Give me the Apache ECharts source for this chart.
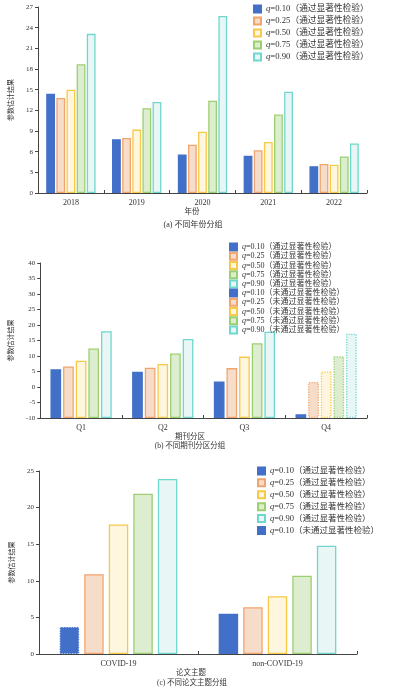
<!DOCTYPE html>
<html><head><meta charset="utf-8">
<script src="https://cdn.jsdelivr.net/npm/echarts@6/dist/echarts.min.js"></script>
<style>html,body{margin:0;padding:0;background:#fff}#c{width:394px;height:691px}</style>
</head><body><div id="c"></div>
<script>
// ---------- data ----------
const qLevels = ['0.10', '0.25', '0.50', '0.75', '0.90'];

// (a) by year
const yearCats = ['2018', '2019', '2020', '2021', '2022'];
const yearQ10 = [14.4, 7.8, 5.6, 5.4, 3.9];
const yearQ25 = [13.8, 8.0, 7.0, 6.2, 4.2];
const yearQ50 = [15.0, 9.2, 8.9, 7.4, 4.1];
const yearQ75 = [18.7, 12.3, 13.4, 11.4, 5.3];
const yearQ90 = [23.1, 13.2, 25.7, 14.7, 7.2];
const yearTicks = {min: 0, max: 27, interval: 3};

// (b) by journal quartile
const quartCats = ['Q1', 'Q2', 'Q3', 'Q4'];
const quartSigQ10 = [5.7, 4.9, 1.8, null];
const quartSigQ25 = [6.6, 6.2, 6.1, null];
const quartSigQ50 = [8.5, 7.4, 9.8, null];
const quartSigQ75 = [12.4, 10.8, 14.1, null];
const quartSigQ90 = [18.0, 15.5, 17.8, null];
const quartNsQ10 = [null, null, null, -8.8];
const quartNsQ25 = [null, null, null, 1.6];
const quartNsQ50 = [null, null, null, 5.0];
const quartNsQ75 = [null, null, null, 9.9];
const quartNsQ90 = [null, null, null, 17.2];
const quartTicks = {min: -10, max: 40, interval: 5};

// (c) by topic
const topicCats = ['COVID-19', 'non-COVID-19'];
const topicSigQ10 = [null, 5.5];
const topicSigQ25 = [10.9, 6.4];
const topicSigQ50 = [17.7, 7.9];
const topicSigQ75 = [21.9, 10.7];
const topicSigQ90 = [23.9, 14.8];
const topicNsQ10 = [3.7, null];
const topicTicks = {min: 0, max: 25, interval: 5};

// ---------- styles ----------
const SERIF = '"Liberation Serif","Times New Roman","Noto Sans CJK SC",serif';
const palette = [
  {fill: '#4270C8', border: '#4270C8'},
  {fill: '#F6DDC9', border: '#F2A46C'},
  {fill: '#FEF6DE', border: '#F8C947'},
  {fill: '#DDEDCF', border: '#9CCF70'},
  {fill: '#E8F7F5', border: '#6FD7CD'}
];
const sigName = i => 'q=' + qLevels[i] + '（通过显著性检验）';
const nsName = i => 'q=' + qLevels[i] + '（未通过显著性检验）';

function barSeries(name, data, qi, xAxisIndex, yAxisIndex, dotted, gap, catGap) {
  return {
    type: 'bar', name: name, data: data,
    xAxisIndex: xAxisIndex, yAxisIndex: yAxisIndex,
    barGap: gap, barCategoryGap: catGap,
    itemStyle: {
      color: palette[qi].fill, borderColor: palette[qi].border,
      borderWidth: 1.3, borderType: dotted ? 'dotted' : 'solid'
    },
    emphasis: {disabled: true}, animation: false
  };
}
function legendFmt(n) { return n.replace(/^q/, '{i|q}'); }
function makeLegend(names, left, top, fs, lh) {
  return {
    data: names, orient: 'vertical', left: left, top: top, padding: 0,
    icon: 'rect', itemWidth: 7, itemHeight: 7, itemGap: 0,
    selectedMode: false, formatter: legendFmt,
    textStyle: {fontFamily: SERIF, fontSize: fs, lineHeight: lh, color: '#333',
      rich: {i: {fontStyle: 'italic', fontFamily: SERIF, fontSize: fs, lineHeight: lh, color: '#333'}}}
  };
}
function yAx(gridIndex, ticks, startValue) {
  const o = {
    type: 'value', gridIndex: gridIndex, min: ticks.min, max: ticks.max, interval: ticks.interval,
    name: '参数估计结果', nameLocation: 'middle', nameGap: 15,
    nameTextStyle: {fontFamily: SERIF, fontSize: 7, color: '#333'},
    axisLine: {show: true, lineStyle: {color: '#444', width: 1}},
    axisTick: {show: true, length: 3, lineStyle: {color: '#444'}},
    axisLabel: {fontFamily: SERIF, fontSize: 7, color: '#333', margin: 5},
    splitLine: {show: false}
  };
  if (startValue !== undefined) o.startValue = startValue;
  return o;
}
function xAx(gridIndex, cats, show) {
  return {
    type: 'category', gridIndex: gridIndex, data: cats, show: show,
    axisLine: {show: true, onZero: false, lineStyle: {color: '#444', width: 1}},
    axisTick: {show: true, inside: true, length: 3, lineStyle: {color: '#444'}},
    axisLabel: {fontFamily: SERIF, fontSize: 8, color: '#333', margin: 6}
  };
}

const series = [];
const yearData = [yearQ10, yearQ25, yearQ50, yearQ75, yearQ90];
yearData.forEach((d, i) => series.push(barSeries(sigName(i), d, i, 0, 0, false, '15%', '25%')));
const quartSig = [quartSigQ10, quartSigQ25, quartSigQ50, quartSigQ75, quartSigQ90];
const quartNs = [quartNsQ10, quartNsQ25, quartNsQ50, quartNsQ75, quartNsQ90];
quartSig.forEach((d, i) => series.push(barSeries(sigName(i), d, i, 1, 1, false, '18%', '25%')));
quartNs.forEach((d, i) => series.push(barSeries(nsName(i), d, i, 2, 1, i > 0, '18%', '25%')));
const topicSig = [topicSigQ10, topicSigQ25, topicSigQ50, topicSigQ75, topicSigQ90];
topicSig.forEach((d, i) => series.push(barSeries(sigName(i), d, i, 3, 2, false, '26%', '26%')));
// not-significant group for (c): q=0.10 only, other slots kept empty so bars align
series.push(barSeries(nsName(0), topicNsQ10, 0, 4, 2, true, '26%', '26%'));
for (let i = 1; i < 5; i++) series.push(barSeries('slot' + i, topicCats.map(() => null), i, 4, 2, false, '26%', '26%'));

const txt = (x, y, s, fs) => ({type: 'text', x: x, y: y, style: {text: s, fontFamily: SERIF, fontSize: fs, fill: '#333', align: 'center', verticalAlign: 'middle'}});

const option = {
  backgroundColor: '#fff',
  animation: false,
  grid: [
    {left: 38, top: 7, width: 329, height: 186},
    {left: 39, top: 263, width: 328, height: 155},
    {left: 39, top: 471, width: 318, height: 183}
  ],
  xAxis: [
    xAx(0, yearCats, true),
    xAx(1, quartCats, true),
    xAx(1, quartCats, false),
    xAx(2, topicCats, true),
    xAx(2, topicCats, false)
  ],
  yAxis: [yAx(0, yearTicks), yAx(1, quartTicks, -10), yAx(2, topicTicks)],
  legend: [
    makeLegend([0,1,2,3,4].map(sigName), 253, 3, 8.7, 12),
    makeLegend([0,1,2,3,4].map(sigName).concat([0,1,2,3,4].map(nsName)), 229, 242.5, 8, 9.2),
    makeLegend([0,1,2,3,4].map(sigName).concat([nsName(0)]), 257, 465, 8.5, 11.9)
  ],
  graphic: [
    txt(192, 212, '年份', 7.5),
    txt(193, 225, '(a) 不同年份分组', 8),
    txt(190, 437, '期刊分区', 7.5),
    txt(190, 446, '(b) 不同期刊分区分组', 7.5),
    txt(191, 673, '论文主题', 7.5),
    txt(192, 683, '(c) 不同论文主题分组', 7.5)
  ],
  series: series
};
const chart = echarts.init(document.getElementById('c'), null, {renderer: 'canvas'});
chart.setOption(option);
</script></body></html>
